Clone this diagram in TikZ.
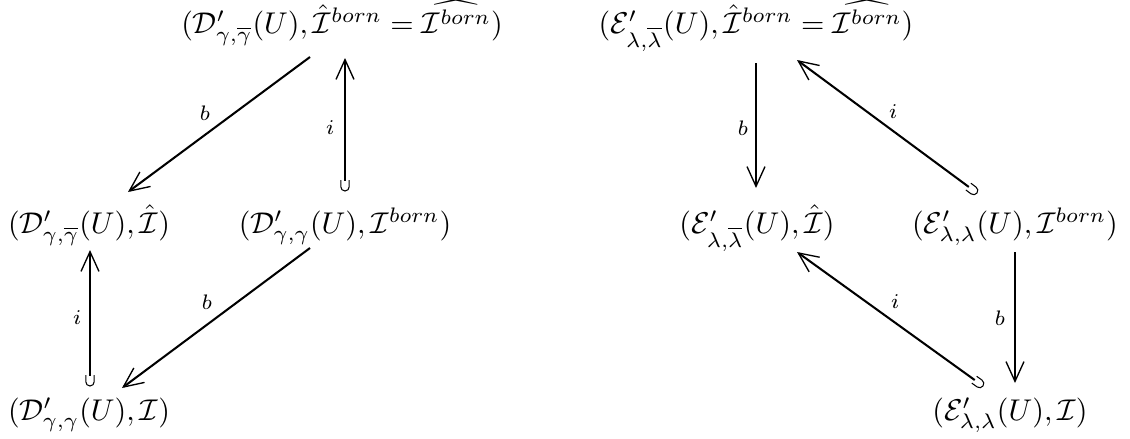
\documentclass[tikz,border=0pt]{standalone}
\usetikzlibrary{arrows.meta}
\pgfdeclarearrow{
  name = Cup,
  parameters = {},
  setup code = {
    \pgfarrowssettipend{3.6pt}
    \pgfarrowssetlineend{0.2pt}
    \pgfarrowssetbackend{0pt}
    \pgfarrowssetvisualbackend{0pt}
    \pgfarrowshullpoint{3.6pt}{1.5pt}
    \pgfarrowshullpoint{3.6pt}{-1.5pt}
    \pgfarrowshullpoint{0pt}{1.5pt}
    \pgfarrowshullpoint{0pt}{-1.5pt}
  },
  drawing code = {
    \pgfsetdash{}{0pt}
    \pgfsetlinewidth{0.35pt}
    \pgfpathmoveto{\pgfqpoint{0pt}{1.4pt}}
    \pgfpathlineto{\pgfqpoint{2.2pt}{1.4pt}}
    \pgfpatharc{90}{-90}{1.4pt}
    \pgfpathlineto{\pgfqpoint{0pt}{-1.4pt}}
    \pgfusepathqstroke
  }
}
\tikzset{
  obj/.style={anchor=base, inner sep=0pt, outer sep=0pt},
  lbl/.style={inner sep=0pt, font=\scriptsize},
  mor/.style={line width=0.68pt, -{Straight Barb[length=6.6pt, width=6pt, line width=0.45pt]}},
  inc/.style={line width=0.68pt, {Cup}-{Straight Barb[length=6.6pt, width=6pt, line width=0.45pt]}}
}
\begin{document}
\begin{tikzpicture}[x=0.3333pt, y=-0.3333pt]
\useasboundingbox (0,0) rectangle (1130,438);
% left diagram
\node[obj] (A) at (342,33) {$(\mathcal{D}'_{\gamma,\overline{\gamma}}(U),\hat{\mathcal{I}}^{born}=\widehat{\mathcal{I}^{born}})$};
\node[obj] (B) at (89,233) {$(\mathcal{D}'_{\gamma,\overline{\gamma}}(U),\hat{\mathcal{I}})$};
\node[obj] (C) at (345,233) {$(\mathcal{D}'_{\gamma,\gamma}(U),\mathcal{I}^{born})$};
\node[obj] (D) at (89,420) {$(\mathcal{D}'_{\gamma,\gamma}(U),\mathcal{I})$};
% right diagram
\node[obj] (E) at (756,33) {$(\mathcal{E}'_{\lambda,\overline{\lambda}}(U),\hat{\mathcal{I}}^{born}=\widehat{\mathcal{I}^{born}})$};
\node[obj] (F) at (757,233) {$(\mathcal{E}'_{\lambda,\overline{\lambda}}(U),\hat{\mathcal{I}})$};
\node[obj] (G) at (1015,233) {$(\mathcal{E}'_{\lambda,\lambda}(U),\mathcal{I}^{born})$};
\node[obj] (H) at (1010,420) {$(\mathcal{E}'_{\lambda,\lambda}(U),\mathcal{I})$};
% arrows left
\draw[mor] ([shift={(-32,24)}]A.base) -- ([shift={(39,-41)}]B.base);
\draw[inc] ([shift={(0,-42)}]C.base) -- ([shift={(3,25)}]A.base);
\draw[inc] ([shift={(1,-34)}]D.base) -- ([shift={(1,17)}]B.base);
\draw[mor] ([shift={(-35,15)}]C.base) -- ([shift={(33,-32)}]D.base);
% arrows right
\draw[mor] ([shift={(0,30)}]E.base) -- ([shift={(-1,-45)}]F.base);
\draw[inc] ([shift={(-38,-40)}]G.base) -- ([shift={(41,27)}]E.base);
\draw[mor] ([shift={(0,19)}]G.base) -- ([shift={(5,-37)}]H.base);
\draw[inc] ([shift={(-27,-34)}]H.base) -- ([shift={(40,19)}]F.base);
% labels
\node[lbl] (lb1) at (205,113) {$b$};
\node[lbl] (li1) at (330,128) {$i$};
\node[lbl] (li2) at (77,318) {$i$};
\node[lbl] (lb2) at (207,302) {$b$};
\node[lbl] (lb3) at (743,128) {$b$};
\node[lbl] (li3) at (893,112) {$i$};
\node[lbl] (lb4) at (1000,318) {$b$};
\node[lbl] (li4) at (895,302) {$i$};
\end{tikzpicture}
\end{document}
